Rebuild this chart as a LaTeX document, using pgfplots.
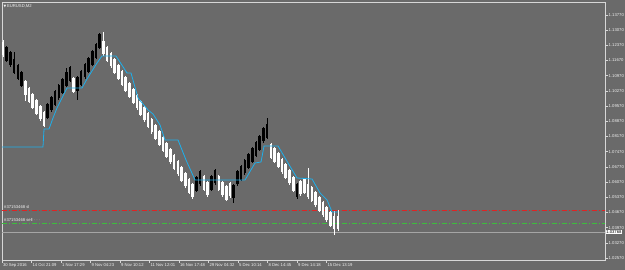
\documentclass[border=0pt]{standalone}
\usepackage{fontspec}
\setmainfont{Liberation Sans}
\newfontfamily\dejavu{DejaVu Sans}
\usepackage{pgfplots}
\usepackage{pgfplotstable}
\pgfplotsset{compat=1.18}
\definecolor{bgc}{RGB}{106,106,106}
\definecolor{framec}{RGB}{215,215,215}
\definecolor{cyanl}{RGB}{30,175,235}
\definecolor{redl}{RGB}{225,35,35}
\definecolor{greenl}{RGB}{60,190,60}
\definecolor{pricel}{RGB}{165,165,165}
\definecolor{txt}{RGB}{240,240,240}
\newcommand{\tinyf}{\fontsize{4.2}{5}\selectfont}
\pgfplotsset{candle/.style={only marks, mark=*, mark size=0.1pt,
  mark options={draw opacity=0, fill opacity=0}, forget plot,
  error bars/.cd, y dir=both, y explicit, error mark=none}}

\pgfplotstableread{
i c h l
0 1.12203 0.0041 0.0037
6 1.10405 0.0037 0.0060
7 1.10082 0.0037 0.0037
8 1.09806 0.0037 0.0037
9 1.09529 0.0037 0.0037
10 1.09253 0.0037 0.0037
11 1.08976 0.0037 0.0037
19 1.10543 0.0037 0.0037
27 1.12249 0.0074 0.0037
28 1.11972 0.0037 0.0037
29 1.11696 0.0037 0.0037
30 1.11419 0.0037 0.0037
31 1.11142 0.0037 0.0037
32 1.10866 0.0037 0.0037
33 1.10589 0.0037 0.0037
34 1.10313 0.0037 0.0037
35 1.10036 0.0037 0.0037
36 1.09760 0.0037 0.0037
37 1.09483 0.0037 0.0037
38 1.09207 0.0037 0.0037
39 1.08930 0.0037 0.0037
40 1.08654 0.0037 0.0037
41 1.08377 0.0037 0.0037
42 1.08100 0.0037 0.0037
43 1.07824 0.0037 0.0037
44 1.07547 0.0037 0.0037
45 1.07271 0.0037 0.0037
46 1.06994 0.0037 0.0037
47 1.06718 0.0037 0.0037
48 1.06441 0.0037 0.0037
49 1.06165 0.0037 0.0037
50 1.05888 0.0037 0.0037
51 1.05658 0.0037 0.0037
54 1.06026 0.0037 0.0037
55 1.05750 0.0037 0.0037
58 1.06026 0.0037 0.0037
59 1.05750 0.0037 0.0037
60 1.05565 0.0037 0.0037
61 1.05704 0.0037 0.0037
72 1.07501 0.0037 0.0037
73 1.07317 0.0037 0.0037
74 1.07086 0.0037 0.0037
75 1.06810 0.0037 0.0037
76 1.06579 0.0037 0.0037
77 1.06303 0.0037 0.0037
78 1.05980 0.0037 0.0037
80 1.05796 0.0037 0.0037
81 1.05888 0.0037 0.0037
82 1.05658 0.0106 0.0037
83 1.05519 0.0037 0.0037
84 1.05289 0.0037 0.0037
85 1.05058 0.0037 0.0037
86 1.04828 0.0037 0.0037
87 1.04598 0.0037 0.0037
88 1.04367 0.0037 0.0037
89 1.04183 0.0055 0.0055
90 1.04183 0.0060 0.0037
}\whitebars

\pgfplotstableread{
i c h l
1 1.11972 0.0037 0.0037
2 1.11742 0.0037 0.0037
3 1.11419 0.0065 0.0037
4 1.11142 0.0037 0.0037
5 1.10820 0.0037 0.0037
12 1.09345 0.0037 0.0037
13 1.09668 0.0037 0.0037
14 1.09944 0.0037 0.0037
15 1.10221 0.0037 0.0037
16 1.10497 0.0037 0.0037
17 1.10820 0.0051 0.0037
18 1.11050 0.0037 0.0037
20 1.10589 0.0037 0.0074
21 1.10866 0.0037 0.0037
22 1.11189 0.0037 0.0037
23 1.11465 0.0037 0.0037
24 1.11788 0.0037 0.0037
25 1.12110 0.0037 0.0037
26 1.12571 0.0037 0.0037
52 1.05980 0.0037 0.0037
53 1.06257 0.0037 0.0037
56 1.06026 0.0037 0.0037
57 1.06303 0.0037 0.0037
62 1.05612 0.0037 0.0051
63 1.06257 0.0037 0.0037
64 1.06487 0.0037 0.0037
65 1.06764 0.0037 0.0037
66 1.07040 0.0037 0.0037
67 1.07317 0.0037 0.0037
68 1.07593 0.0037 0.0037
69 1.07870 0.0037 0.0037
70 1.08239 0.0037 0.0037
71 1.08423 0.0060 0.0037
79 1.05658 0.0037 0.0037
}\blackbars

\pgfplotstableread{
i p
-0.30 1.07686
10.75 1.07686
11.02 1.08515
12.37 1.08515
13.44 1.09022
14.52 1.09483
15.86 1.09944
17.20 1.10405
21.24 1.10405
22.58 1.10820
23.92 1.11189
25.27 1.11557
26.61 1.11880
30.38 1.11880
33.33 1.11096
34.41 1.11096
36.29 1.09944
38.98 1.09391
40.32 1.09207
42.20 1.08700
43.55 1.08008
47.04 1.08008
49.19 1.07086
51.61 1.06165
65.05 1.06165
67.74 1.06948
69.35 1.06994
70.16 1.07732
73.92 1.07732
76.61 1.06948
79.03 1.06257
83.06 1.06211
85.22 1.05565
87.10 1.05243
88.44 1.04690
90.05 1.04690
}\cyanline

\begin{document}
\begin{tikzpicture}
\fill[bgc] (0,0) rectangle (625pt,270pt);
\path[use as bounding box] (0,0) rectangle (625pt,270pt);
\begin{axis}[
  at={(2pt,10pt)}, anchor=south west,
  scale only axis, width=603pt, height=258pt,
  xmin=-0.27, xmax=161.8, ymin=1.02477, ymax=1.14369,
  axis line style={framec, line width=0.6pt},
  tick style={framec, line width=0.5pt},
  major tick length=3pt, tick align=outside,
  xtick pos=bottom, ytick pos=right, yticklabel pos=right,
  xtick={-0.27,7.66,15.59,23.52,31.45,39.38,47.31,55.24,63.17,71.10,79.03,86.96},
  xticklabels={30 Sep 2016,14 Oct 21:09,1 Nov 17:29,9 Nov 04:23,9 Nov 10:12,11 Nov 12:01,16 Nov 17:48,29 Nov 04:32,5 Dec 10:14,8 Dec 14:45,9 Dec 14:18,15 Dec 13:19},
  xticklabel style={anchor=north west, font=\tinyf, text=txt, inner sep=0pt, xshift=0.8pt, yshift=-0.5pt},
  ytick={1.02570,1.03270,1.03970,1.04670,1.05370,1.06070,1.06770,1.07470,1.08170,1.08870,1.09570,1.10270,1.10970,1.11670,1.12370,1.13070,1.13770},
  yticklabels={1.02570,1.03270,1.03970,1.04670,1.05370,1.06070,1.06770,1.07470,1.08170,1.08870,1.09570,1.10270,1.10970,1.11670,1.12370,1.13070,1.13770},
  yticklabel style={anchor=west, font=\tinyf, text=txt, inner sep=0pt, xshift=0.5pt},
  axis background/.style={fill=bgc},
]
% level lines (behind the bars)
\addplot[pricel, line width=0.4pt, forget plot] coordinates {(-0.3,1.03768) (162,1.03768)};
\addplot[greenl, line width=0.9pt, dash pattern=on 5pt off 2pt on 1pt off 2pt, forget plot] coordinates {(-0.3,1.04183) (162,1.04183)};
\addplot[redl, line width=0.8pt, dash pattern=on 5pt off 2pt on 1pt off 2pt, forget plot] coordinates {(-0.3,1.04782) (162,1.04782)};
% wicks
\addplot[candle, error bar style={draw=white, line width=0.7pt, solid}]
  table[x=i, y=c, y error plus=h, y error minus=l] {\whitebars};
\addplot[candle, error bar style={draw=black, line width=0.7pt, solid}]
  table[x=i, y=c, y error plus=h, y error minus=l] {\blackbars};
% bodies
\addplot[candle, error bar style={draw=white, line width=2.6pt, solid}]
  table[x=i, y=c, y error expr=0.0030] {\whitebars};
\addplot[candle, error bar style={draw=black, line width=2.6pt, solid}]
  table[x=i, y=c, y error expr=0.0030] {\blackbars};
% indicator
\addplot[cyanl, line width=0.8pt, forget plot] table[x=i, y=p] {\cyanline};
\end{axis}
\node[anchor=west, inner sep=0pt, text=txt, font=\tinyf] at (3.5pt,264pt) {{\dejavu\fontsize{3.5}{4}\selectfont ▼}\,EURUSD,M2};
\node[anchor=west, inner sep=0pt, text=txt, font=\tinyf] at (4pt,63pt) {\#37153468 sl};
\node[anchor=west, inner sep=0pt, text=txt, font=\tinyf] at (4pt,50pt) {\#37153468 sell \textcolor{pricel}{- - -}};
\node[anchor=west, fill=white, text=black, inner sep=0.6pt, font=\tinyf] at (605.5pt,38pt) {1.03768};
\end{tikzpicture}
\end{document}
